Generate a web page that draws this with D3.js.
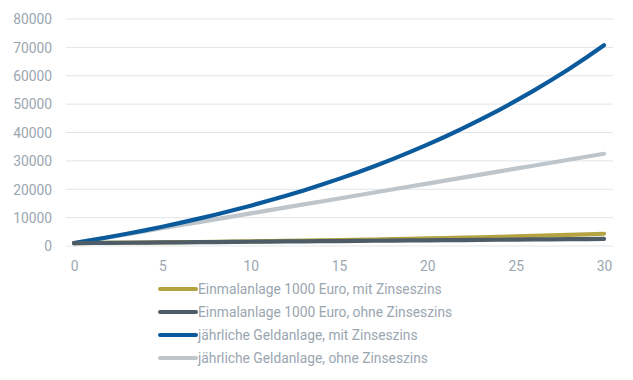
<!DOCTYPE html>
<html><head><meta charset="utf-8">
<script src="https://cdn.jsdelivr.net/npm/d3@7"></script>
<style>body{margin:0;background:#fff}svg{display:block}text{font-family:Roboto,"Open Sans",sans-serif}</style>
</head><body><svg id="c" width="633" height="380"></svg>
<script>
const years = d3.range(0, 31);
const seriesNames = ["Einmalanlage 1000 Euro, mit Zinseszins","Einmalanlage 1000 Euro, ohne Zinseszins","jährliche Geldanlage, mit Zinseszins","jährliche Geldanlage, ohne Zinseszins"];
const colors = ["#b3a441","#4e5c67","#0a5a9c","#bec5cb"];
const einmalMit = [1000,1050,1103,1158,1216,1276,1340,1407,1477,1551,1629,1710,1796,1886,1980,2079,2183,2292,2407,2527,2653,2786,2925,3072,3225,3386,3556,3733,3920,4116,4322];
const einmalOhne = [1000,1050,1100,1150,1200,1250,1300,1350,1400,1450,1500,1550,1600,1650,1700,1750,1800,1850,1900,1950,2000,2050,2100,2150,2200,2250,2300,2350,2400,2450,2500];
const jaehrlichMit = [1000,2050,3153,4310,5526,6802,8142,9549,11027,12578,14207,15917,17713,19599,21579,23657,25840,28132,30539,33066,35719,38505,41430,44502,47727,51113,54669,58403,62323,66439,70761];
const jaehrlichOhne = [1000,2050,3100,4150,5200,6250,7300,8350,9400,10450,11500,12550,13600,14650,15700,16750,17800,18850,19900,20950,22000,23050,24100,25150,26200,27250,28300,29350,30400,31450,32500];
const yTicks = [0,10000,20000,30000,40000,50000,60000,70000,80000];
const xTicks = [0,5,10,15,20,25,30];
const allSeries = [einmalMit, einmalOhne, jaehrlichMit, jaehrlichOhne];

const svg = d3.select("#c");
const x = d3.scaleLinear().domain([0,30]).range([74,604]);
const y = d3.scaleLinear().domain([0,80000]).range([246,19]);
const labelColor = "#9aa6b0";
const fs = "13.8px";

svg.append("g").selectAll("line").data(yTicks).join("line")
  .attr("x1",66).attr("x2",613).attr("y1",d=>y(d)).attr("y2",d=>y(d))
  .attr("stroke","#e1e5e8").attr("stroke-width",1);

const yAxis = svg.append("g").attr("transform","translate(56,0)")
  .call(d3.axisLeft(y).tickValues(yTicks).tickSize(0).tickPadding(4).tickFormat(d3.format("d")));
yAxis.select(".domain").remove();
yAxis.selectAll("text").attr("fill",labelColor).style("font-size",fs).attr("dy","0.35em");

const xAxis = svg.append("g").attr("transform","translate(0,259)")
  .call(d3.axisBottom(x).tickValues(xTicks).tickSize(0).tickPadding(2));
xAxis.select(".domain").remove();
xAxis.selectAll("text").attr("fill",labelColor).style("font-size",fs);

const line = d3.line().x((d,i)=>x(years[i])).y(d=>y(d));
const order = [3,2,0,1];
svg.append("g").selectAll("path").data(order).join("path")
  .attr("d",k=>line(allSeries[k])).attr("fill","none")
  .attr("stroke",k=>colors[k]).attr("stroke-width",4.2).attr("stroke-linecap","round").attr("stroke-linejoin","round");

const leg = svg.append("g").selectAll("g").data(seriesNames).join("g")
  .attr("transform",(d,i)=>`translate(0,${289+i*23})`);
leg.append("line").attr("x1",160).attr("x2",196).attr("stroke",(d,i)=>colors[i]).attr("stroke-width",4).attr("stroke-linecap","round");
leg.append("text").attr("x",198).attr("dy","0.35em").attr("fill",labelColor).style("font-size",fs).text(d=>d);
</script></body></html>
